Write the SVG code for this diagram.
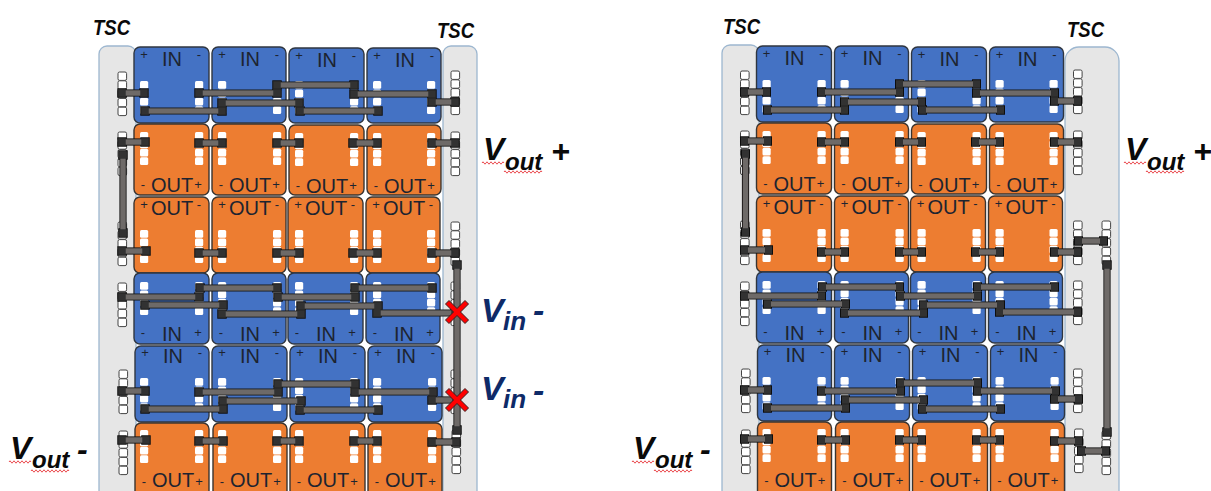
<svg xmlns="http://www.w3.org/2000/svg" width="1211" height="491" viewBox="0 0 1211 491">
<style>
text{font-family:"Liberation Sans",Arial,sans-serif}
.p{fill:#e6e6e6;stroke:#9db7d0;stroke-width:1.3}
.in{fill:#4472c4;stroke:#2f3640;stroke-width:1.4}
.out{fill:#ed7d31;stroke:#3a3430;stroke-width:1.4}
.l{font-size:20px;text-anchor:middle;fill:#1d2430}
.s{font-size:13px;text-anchor:middle;fill:#1d2430}
.k{font-weight:bold;font-style:italic;fill:#0a0a0a}
.n{font-weight:bold;font-style:italic;fill:#0e2a68}
.cs rect{fill:#fff}
.ts rect{fill:#fff;stroke:#444;stroke-width:1}
.c line{stroke:#6e6a68;stroke-width:5.2;marker-start:url(#e);marker-end:url(#e)}
.c{filter:url(#o)}
.x{fill:#f00;stroke:#3a2020;stroke-width:1}
.w{fill:none;stroke:#e8383c;stroke-width:.9}
</style>
<defs>
<marker id="e" markerUnits="userSpaceOnUse" markerWidth="7.5" markerHeight="7.5" refX="3.75" refY="3.75" orient="auto"><rect width="7.5" height="7.5" fill="#333"/></marker>
<filter id="o" filterUnits="userSpaceOnUse" x="-700" y="-20" width="2000" height="540"><feMorphology in="SourceAlpha" operator="dilate" radius=".7" result="d"/><feFlood flood-color="#111"/><feComposite in2="d" operator="in"/><feMerge><feMergeNode/><feMergeNode in="SourceGraphic"/></feMerge></filter>
<g id="cs" class="cs"><rect width="8.2" height="7.8" rx="1.5"/><rect y="8.4" width="8.2" height="7.8" rx="1.5"/><rect y="16.8" width="8.2" height="7.8" rx="1.5"/><rect y="25.2" width="8.2" height="7.8" rx="1.5"/></g>
<g id="ts" class="ts"><rect width="8.6" height="8.4" rx="1.6"/><rect y="8.8" width="8.6" height="8.4" rx="1.6"/><rect y="17.6" width="8.6" height="8.4" rx="1.6"/><rect y="26.4" width="8.6" height="8.4" rx="1.6"/><rect y="35.2" width="8.6" height="8.4" rx="1.6"/></g>
<path id="wl" class="w" d="M0 0q1 -2.4 2 0t2 0t2 0t2 0t2 0t2 0t2 0t2 0t2 0t2 0t2 0t2 0t2 0t2 0t2 0t2 0t2 0t2 0t2 0"/>
<path id="ws" class="w" d="M0 0q1 -2.4 2 0t2 0t2 0t2 0t2 0t2 0t2 0t2 0t2 0t2 0t2 0"/>
</defs>

<g id="a-tsc-left"><rect class="p" x="99" y="46" width="37" height="460" rx="8"/></g>
<g id="a-tsc-right"><rect class="p" x="443" y="46" width="34" height="460" rx="8"/></g>
<g id="b-tsc-left"><rect class="p" x="722" y="45" width="37" height="460" rx="8"/></g>
<g id="b-tsc-right"><rect class="p" x="1065" y="47" width="54" height="460" rx="14"/></g>

<g id="diagram-a">
<g id="a-r1c1" transform="translate(134,47)"><rect class="in" width="75" height="76" rx="6"/><use href="#cs" x="6" y="34"/><use href="#cs" x="61" y="34"/><text class="s" x="10" y="12">+</text><text class="l" x="38" y="19">IN</text><text class="s" x="65" y="12">-</text></g>
<g id="a-r1c2" transform="translate(212,47)"><rect class="in" width="74" height="76" rx="6"/><use href="#cs" x="6" y="34"/><use href="#cs" x="61" y="34"/><text class="s" x="10" y="12">+</text><text class="l" x="38" y="19">IN</text><text class="s" x="65" y="12">-</text></g>
<g id="a-r1c3" transform="translate(289,48)"><rect class="in" width="75" height="75" rx="6"/><use href="#cs" x="6" y="33"/><use href="#cs" x="61" y="33"/><text class="s" x="10" y="12">+</text><text class="l" x="38" y="19">IN</text><text class="s" x="65" y="12">-</text></g>
<g id="a-r1c4" transform="translate(367,48)"><rect class="in" width="74" height="75" rx="6"/><use href="#cs" x="6" y="33"/><use href="#cs" x="60" y="33"/><text class="s" x="10" y="12">+</text><text class="l" x="38" y="19">IN</text><text class="s" x="65" y="12">-</text></g>

<g id="a-r2c1" transform="translate(134,124)"><rect class="out" width="75" height="71" rx="6"/><use href="#cs" x="6" y="8"/><use href="#cs" x="61" y="8"/><text class="s" x="9" y="65">-</text><text class="l" x="38" y="68">OUT</text><text class="s" x="64" y="65">+</text></g>
<g id="a-r2c2" transform="translate(212,124)"><rect class="out" width="74" height="71" rx="6"/><use href="#cs" x="6" y="8"/><use href="#cs" x="61" y="8"/><text class="s" x="9" y="65">-</text><text class="l" x="38" y="68">OUT</text><text class="s" x="64" y="65">+</text></g>
<g id="a-r2c3" transform="translate(289,125)"><rect class="out" width="75" height="70" rx="6"/><use href="#cs" x="6" y="8"/><use href="#cs" x="61" y="8"/><text class="s" x="9" y="65">-</text><text class="l" x="38" y="68">OUT</text><text class="s" x="64" y="65">+</text></g>
<g id="a-r2c4" transform="translate(367,125)"><rect class="out" width="74" height="70" rx="6"/><use href="#cs" x="6" y="8"/><use href="#cs" x="60" y="8"/><text class="s" x="9" y="65">-</text><text class="l" x="38" y="68">OUT</text><text class="s" x="64" y="65">+</text></g>

<g id="a-r3c1" transform="translate(134,197)"><rect class="out" width="75" height="76" rx="6"/><use href="#cs" x="6" y="33"/><use href="#cs" x="61" y="33"/><text class="s" x="10" y="12">+</text><text class="l" x="38" y="18">OUT</text><text class="s" x="65" y="12">-</text></g>
<g id="a-r3c2" transform="translate(212,197)"><rect class="out" width="74" height="76" rx="6"/><use href="#cs" x="6" y="33"/><use href="#cs" x="61" y="33"/><text class="s" x="10" y="12">+</text><text class="l" x="38" y="18">OUT</text><text class="s" x="65" y="12">-</text></g>
<g id="a-r3c3" transform="translate(288,197)"><rect class="out" width="75" height="76" rx="6"/><use href="#cs" x="7" y="33"/><use href="#cs" x="62" y="33"/><text class="s" x="10" y="12">+</text><text class="l" x="38" y="18">OUT</text><text class="s" x="65" y="12">-</text></g>
<g id="a-r3c4" transform="translate(366,197)"><rect class="out" width="74" height="76" rx="6"/><use href="#cs" x="7" y="33"/><use href="#cs" x="61" y="33"/><text class="s" x="10" y="12">+</text><text class="l" x="38" y="18">OUT</text><text class="s" x="65" y="12">-</text></g>

<g id="a-r4c1" transform="translate(134,273)"><rect class="in" width="75" height="71" rx="6"/><use href="#cs" x="6" y="9"/><use href="#cs" x="61" y="9"/><text class="s" x="9" y="64">-</text><text class="l" x="38" y="68">IN</text><text class="s" x="64" y="64">+</text></g>
<g id="a-r4c2" transform="translate(212,273)"><rect class="in" width="74" height="71" rx="6"/><use href="#cs" x="6" y="9"/><use href="#cs" x="61" y="9"/><text class="s" x="9" y="64">-</text><text class="l" x="38" y="68">IN</text><text class="s" x="64" y="64">+</text></g>
<g id="a-r4c3" transform="translate(288,273)"><rect class="in" width="75" height="71" rx="6"/><use href="#cs" x="7" y="9"/><use href="#cs" x="62" y="9"/><text class="s" x="9" y="64">-</text><text class="l" x="38" y="68">IN</text><text class="s" x="64" y="64">+</text></g>
<g id="a-r4c4" transform="translate(366,273)"><rect class="in" width="74" height="71" rx="6"/><use href="#cs" x="7" y="9"/><use href="#cs" x="61" y="9"/><text class="s" x="9" y="64">-</text><text class="l" x="38" y="68">IN</text><text class="s" x="64" y="64">+</text></g>

<g id="a-r5c1" transform="translate(135,346)"><rect class="in" width="74" height="76" rx="6"/><use href="#cs" x="5" y="32"/><use href="#cs" x="60" y="32"/><text class="s" x="10" y="11">+</text><text class="l" x="38" y="17">IN</text><text class="s" x="65" y="11">-</text></g>
<g id="a-r5c2" transform="translate(212,346)"><rect class="in" width="75" height="76" rx="6"/><use href="#cs" x="6" y="32"/><use href="#cs" x="61" y="32"/><text class="s" x="10" y="11">+</text><text class="l" x="38" y="17">IN</text><text class="s" x="65" y="11">-</text></g>
<g id="a-r5c3" transform="translate(290,346)"><rect class="in" width="75" height="76" rx="6"/><use href="#cs" x="5" y="32"/><use href="#cs" x="60" y="32"/><text class="s" x="10" y="11">+</text><text class="l" x="38" y="17">IN</text><text class="s" x="65" y="11">-</text></g>
<g id="a-r5c4" transform="translate(368,346)"><rect class="in" width="74" height="76" rx="6"/><use href="#cs" x="5" y="32"/><use href="#cs" x="60" y="32"/><text class="s" x="10" y="11">+</text><text class="l" x="38" y="17">IN</text><text class="s" x="65" y="11">-</text></g>

<g id="a-r6c1" transform="translate(135,423)"><rect class="out" width="74" height="76" rx="6"/><use href="#cs" x="5" y="7"/><use href="#cs" x="60" y="7"/><text class="s" x="9" y="63">-</text><text class="l" x="38" y="64">OUT</text><text class="s" x="64" y="63">+</text></g>
<g id="a-r6c2" transform="translate(213,423)"><rect class="out" width="74" height="76" rx="6"/><use href="#cs" x="5" y="7"/><use href="#cs" x="60" y="7"/><text class="s" x="9" y="63">-</text><text class="l" x="38" y="64">OUT</text><text class="s" x="64" y="63">+</text></g>
<g id="a-r6c3" transform="translate(290,423)"><rect class="out" width="75" height="76" rx="6"/><use href="#cs" x="5" y="7"/><use href="#cs" x="60" y="7"/><text class="s" x="9" y="63">-</text><text class="l" x="38" y="64">OUT</text><text class="s" x="64" y="63">+</text></g>
<g id="a-r6c4" transform="translate(368,423)"><rect class="out" width="74" height="76" rx="6"/><use href="#cs" x="5" y="7"/><use href="#cs" x="60" y="7"/><text class="s" x="9" y="63">-</text><text class="l" x="38" y="64">OUT</text><text class="s" x="64" y="63">+</text></g>

<g id="a-tsc-slots">
<use href="#ts" x="118" y="72"/><use href="#ts" x="118" y="132"/><use href="#ts" x="118" y="222"/><use href="#ts" x="118" y="283"/><use href="#ts" x="119" y="370"/><use href="#ts" x="119" y="431"/>
<use href="#ts" x="451" y="71"/><use href="#ts" x="451" y="132"/><use href="#ts" x="451" y="222"/><use href="#ts" x="451" y="282"/><use href="#ts" x="451" y="370"/><use href="#ts" x="452" y="430"/>
</g>

<g id="a-connectors" class="c">
<line x1="122" y1="93" x2="144" y2="93"/><line x1="199" y1="93" x2="277" y2="93"/><line x1="277" y1="85" x2="354" y2="85"/><line x1="354" y1="94" x2="432" y2="94"/><line x1="432" y1="102" x2="455" y2="102"/><line x1="145" y1="111" x2="222" y2="111"/><line x1="222" y1="103" x2="299" y2="103"/><line x1="300" y1="111" x2="378" y2="111"/>
<line x1="122" y1="142" x2="145" y2="142"/><line x1="199" y1="143" x2="222" y2="143"/><line x1="277" y1="143" x2="299" y2="143"/><line x1="353" y1="143" x2="377" y2="143"/><line x1="432" y1="143" x2="455" y2="143"/>
<line x1="123" y1="155" x2="123" y2="233"/>
<line x1="122" y1="251" x2="146" y2="251"/><line x1="199" y1="253" x2="222" y2="253"/><line x1="277" y1="253" x2="299" y2="253"/><line x1="353" y1="253" x2="377" y2="253"/><line x1="432" y1="253" x2="455" y2="253"/>
<line x1="200" y1="288" x2="277" y2="288"/><line x1="122" y1="297" x2="199" y2="297"/><line x1="278" y1="297" x2="355" y2="297"/><line x1="355" y1="288" x2="432" y2="288"/><line x1="145" y1="305" x2="223" y2="305"/><line x1="222" y1="314" x2="301" y2="314"/><line x1="301" y1="306" x2="378" y2="306"/><line x1="377" y1="313" x2="455" y2="313"/>
<line x1="457" y1="265" x2="457" y2="430"/>
<line x1="122" y1="391" x2="145" y2="391"/><line x1="199" y1="392" x2="278" y2="392"/><line x1="278" y1="384" x2="355" y2="384"/><line x1="355" y1="392" x2="433" y2="392"/><line x1="432" y1="400" x2="456" y2="400"/><line x1="145" y1="409" x2="223" y2="409"/><line x1="223" y1="401" x2="301" y2="401"/><line x1="300" y1="410" x2="378" y2="410"/>
<line x1="122" y1="440" x2="146" y2="440"/><line x1="199" y1="441" x2="223" y2="441"/><line x1="277" y1="441" x2="299" y2="441"/><line x1="354" y1="441" x2="377" y2="441"/><line x1="432" y1="442" x2="456" y2="442"/>
</g>
<polygon id="a-cross-1" class="x" transform="translate(457,312)" points="-8,-11.5 0,-3.5 8,-11.5 11.5,-8 3.5,0 11.5,8 8,11.5 0,3.5 -8,11.5 -11.5,8 -3.5,0 -11.5,-8"/>
<polygon id="a-cross-2" class="x" transform="translate(457,400)" points="-8,-11.5 0,-3.5 8,-11.5 11.5,-8 3.5,0 11.5,8 8,11.5 0,3.5 -8,11.5 -11.5,8 -3.5,0 -11.5,-8"/>
</g>

<g id="diagram-b" transform="translate(622.5,-1)">
<g id="b-r1c1" transform="translate(134,47)"><rect class="in" width="75" height="76" rx="6"/><use href="#cs" x="6" y="34"/><use href="#cs" x="61" y="34"/><text class="s" x="10" y="12">+</text><text class="l" x="38" y="19">IN</text><text class="s" x="65" y="12">-</text></g>
<g id="b-r1c2" transform="translate(212,47)"><rect class="in" width="74" height="76" rx="6"/><use href="#cs" x="6" y="34"/><use href="#cs" x="61" y="34"/><text class="s" x="10" y="12">+</text><text class="l" x="38" y="19">IN</text><text class="s" x="65" y="12">-</text></g>
<g id="b-r1c3" transform="translate(289,48)"><rect class="in" width="75" height="75" rx="6"/><use href="#cs" x="6" y="33"/><use href="#cs" x="61" y="33"/><text class="s" x="10" y="12">+</text><text class="l" x="38" y="19">IN</text><text class="s" x="65" y="12">-</text></g>
<g id="b-r1c4" transform="translate(367,48)"><rect class="in" width="74" height="75" rx="6"/><use href="#cs" x="6" y="33"/><use href="#cs" x="60" y="33"/><text class="s" x="10" y="12">+</text><text class="l" x="38" y="19">IN</text><text class="s" x="65" y="12">-</text></g>

<g id="b-r2c1" transform="translate(134,124)"><rect class="out" width="75" height="71" rx="6"/><use href="#cs" x="6" y="8"/><use href="#cs" x="61" y="8"/><text class="s" x="9" y="65">-</text><text class="l" x="38" y="68">OUT</text><text class="s" x="64" y="65">+</text></g>
<g id="b-r2c2" transform="translate(212,124)"><rect class="out" width="74" height="71" rx="6"/><use href="#cs" x="6" y="8"/><use href="#cs" x="61" y="8"/><text class="s" x="9" y="65">-</text><text class="l" x="38" y="68">OUT</text><text class="s" x="64" y="65">+</text></g>
<g id="b-r2c3" transform="translate(289,125)"><rect class="out" width="75" height="70" rx="6"/><use href="#cs" x="6" y="8"/><use href="#cs" x="61" y="8"/><text class="s" x="9" y="65">-</text><text class="l" x="38" y="68">OUT</text><text class="s" x="64" y="65">+</text></g>
<g id="b-r2c4" transform="translate(367,125)"><rect class="out" width="74" height="70" rx="6"/><use href="#cs" x="6" y="8"/><use href="#cs" x="60" y="8"/><text class="s" x="9" y="65">-</text><text class="l" x="38" y="68">OUT</text><text class="s" x="64" y="65">+</text></g>

<g id="b-r3c1" transform="translate(134,197)"><rect class="out" width="75" height="76" rx="6"/><use href="#cs" x="6" y="33"/><use href="#cs" x="61" y="33"/><text class="s" x="10" y="12">+</text><text class="l" x="38" y="18">OUT</text><text class="s" x="65" y="12">-</text></g>
<g id="b-r3c2" transform="translate(212,197)"><rect class="out" width="74" height="76" rx="6"/><use href="#cs" x="6" y="33"/><use href="#cs" x="61" y="33"/><text class="s" x="10" y="12">+</text><text class="l" x="38" y="18">OUT</text><text class="s" x="65" y="12">-</text></g>
<g id="b-r3c3" transform="translate(288,197)"><rect class="out" width="75" height="76" rx="6"/><use href="#cs" x="7" y="33"/><use href="#cs" x="62" y="33"/><text class="s" x="10" y="12">+</text><text class="l" x="38" y="18">OUT</text><text class="s" x="65" y="12">-</text></g>
<g id="b-r3c4" transform="translate(366,197)"><rect class="out" width="74" height="76" rx="6"/><use href="#cs" x="7" y="33"/><use href="#cs" x="61" y="33"/><text class="s" x="10" y="12">+</text><text class="l" x="38" y="18">OUT</text><text class="s" x="65" y="12">-</text></g>

<g id="b-r4c1" transform="translate(134,273)"><rect class="in" width="75" height="71" rx="6"/><use href="#cs" x="6" y="9"/><use href="#cs" x="61" y="9"/><text class="s" x="9" y="64">-</text><text class="l" x="38" y="68">IN</text><text class="s" x="64" y="64">+</text></g>
<g id="b-r4c2" transform="translate(212,273)"><rect class="in" width="74" height="71" rx="6"/><use href="#cs" x="6" y="9"/><use href="#cs" x="61" y="9"/><text class="s" x="9" y="64">-</text><text class="l" x="38" y="68">IN</text><text class="s" x="64" y="64">+</text></g>
<g id="b-r4c3" transform="translate(288,273)"><rect class="in" width="75" height="71" rx="6"/><use href="#cs" x="7" y="9"/><use href="#cs" x="62" y="9"/><text class="s" x="9" y="64">-</text><text class="l" x="38" y="68">IN</text><text class="s" x="64" y="64">+</text></g>
<g id="b-r4c4" transform="translate(366,273)"><rect class="in" width="74" height="71" rx="6"/><use href="#cs" x="7" y="9"/><use href="#cs" x="61" y="9"/><text class="s" x="9" y="64">-</text><text class="l" x="38" y="68">IN</text><text class="s" x="64" y="64">+</text></g>

<g id="b-r5c1" transform="translate(135,346)"><rect class="in" width="74" height="76" rx="6"/><use href="#cs" x="5" y="32"/><use href="#cs" x="60" y="32"/><text class="s" x="10" y="11">+</text><text class="l" x="38" y="17">IN</text><text class="s" x="65" y="11">-</text></g>
<g id="b-r5c2" transform="translate(212,346)"><rect class="in" width="75" height="76" rx="6"/><use href="#cs" x="6" y="32"/><use href="#cs" x="61" y="32"/><text class="s" x="10" y="11">+</text><text class="l" x="38" y="17">IN</text><text class="s" x="65" y="11">-</text></g>
<g id="b-r5c3" transform="translate(290,346)"><rect class="in" width="75" height="76" rx="6"/><use href="#cs" x="5" y="32"/><use href="#cs" x="60" y="32"/><text class="s" x="10" y="11">+</text><text class="l" x="38" y="17">IN</text><text class="s" x="65" y="11">-</text></g>
<g id="b-r5c4" transform="translate(368,346)"><rect class="in" width="74" height="76" rx="6"/><use href="#cs" x="5" y="32"/><use href="#cs" x="60" y="32"/><text class="s" x="10" y="11">+</text><text class="l" x="38" y="17">IN</text><text class="s" x="65" y="11">-</text></g>

<g id="b-r6c1" transform="translate(135,423)"><rect class="out" width="74" height="76" rx="6"/><use href="#cs" x="5" y="7"/><use href="#cs" x="60" y="7"/><text class="s" x="9" y="63">-</text><text class="l" x="38" y="65">OUT</text><text class="s" x="64" y="63">+</text></g>
<g id="b-r6c2" transform="translate(213,423)"><rect class="out" width="74" height="76" rx="6"/><use href="#cs" x="5" y="7"/><use href="#cs" x="60" y="7"/><text class="s" x="9" y="63">-</text><text class="l" x="38" y="65">OUT</text><text class="s" x="64" y="63">+</text></g>
<g id="b-r6c3" transform="translate(290,423)"><rect class="out" width="75" height="76" rx="6"/><use href="#cs" x="5" y="7"/><use href="#cs" x="60" y="7"/><text class="s" x="9" y="63">-</text><text class="l" x="38" y="65">OUT</text><text class="s" x="64" y="63">+</text></g>
<g id="b-r6c4" transform="translate(368,423)"><rect class="out" width="74" height="76" rx="6"/><use href="#cs" x="5" y="7"/><use href="#cs" x="60" y="7"/><text class="s" x="9" y="63">-</text><text class="l" x="38" y="65">OUT</text><text class="s" x="64" y="63">+</text></g>

<g id="b-tsc-slots">
<use href="#ts" x="118" y="72"/><use href="#ts" x="118" y="132"/><use href="#ts" x="118" y="222"/><use href="#ts" x="118" y="283"/><use href="#ts" x="119" y="370"/><use href="#ts" x="119" y="431"/>
<use href="#ts" x="451" y="71"/><use href="#ts" x="451" y="132"/><use href="#ts" x="451" y="222"/><use href="#ts" x="451" y="282"/><use href="#ts" x="451" y="370"/><use href="#ts" x="452" y="430"/>
<use href="#ts" x="479.5" y="222"/><use href="#ts" x="479.5" y="432"/>
</g>

<g id="b-connectors" class="c">
<line x1="122" y1="93" x2="144" y2="93"/><line x1="199" y1="93" x2="277" y2="93"/><line x1="277" y1="85" x2="354" y2="85"/><line x1="354" y1="94" x2="432" y2="94"/><line x1="432" y1="102" x2="455" y2="102"/><line x1="145" y1="111" x2="222" y2="111"/><line x1="222" y1="103" x2="299" y2="103"/><line x1="300" y1="111" x2="378" y2="111"/>
<line x1="122" y1="142" x2="145" y2="142"/><line x1="199" y1="143" x2="222" y2="143"/><line x1="277" y1="143" x2="299" y2="143"/><line x1="353" y1="143" x2="377" y2="143"/><line x1="432" y1="143" x2="455" y2="143"/>
<line x1="123" y1="155" x2="123" y2="233"/>
<line x1="122" y1="251" x2="146" y2="251"/><line x1="199" y1="253" x2="222" y2="253"/><line x1="277" y1="253" x2="299" y2="253"/><line x1="353" y1="253" x2="377" y2="253"/><line x1="432" y1="253" x2="455" y2="253"/>
<line x1="456" y1="242" x2="481" y2="242"/>
<line x1="200" y1="288" x2="277" y2="288"/><line x1="122" y1="297" x2="199" y2="297"/><line x1="278" y1="297" x2="355" y2="297"/><line x1="355" y1="288" x2="432" y2="288"/><line x1="145" y1="305" x2="223" y2="305"/><line x1="222" y1="314" x2="301" y2="314"/><line x1="301" y1="306" x2="378" y2="306"/><line x1="377" y1="313" x2="455" y2="313"/>
<line x1="484.5" y1="266" x2="484.5" y2="433"/>
<line x1="122" y1="391" x2="145" y2="391"/><line x1="199" y1="392" x2="278" y2="392"/><line x1="278" y1="384" x2="355" y2="384"/><line x1="355" y1="392" x2="433" y2="392"/><line x1="432" y1="400" x2="456" y2="400"/><line x1="145" y1="409" x2="223" y2="409"/><line x1="223" y1="401" x2="301" y2="401"/><line x1="300" y1="410" x2="378" y2="410"/>
<line x1="122" y1="440" x2="146" y2="440"/><line x1="199" y1="441" x2="223" y2="441"/><line x1="277" y1="441" x2="299" y2="441"/><line x1="354" y1="441" x2="377" y2="441"/><line x1="432" y1="442" x2="456" y2="442"/>
<line x1="459" y1="452" x2="483" y2="452"/>
</g>
</g>

<g id="labels">
<text class="k" font-size="22" x="93" y="35" textLength="37" lengthAdjust="spacingAndGlyphs">TSC</text>
<text class="k" font-size="22" x="437" y="38" textLength="37" lengthAdjust="spacingAndGlyphs">TSC</text>
<text class="k" font-size="22" x="723" y="34" textLength="37" lengthAdjust="spacingAndGlyphs">TSC</text>
<text class="k" font-size="22" x="1067" y="37" textLength="37" lengthAdjust="spacingAndGlyphs">TSC</text>

<text class="k" font-size="32" x="483" y="160">V</text><text class="k" font-size="24" x="505" y="170">out</text><text class="k" font-size="32" x="551" y="162">+</text>
<text class="k" font-size="32" x="1125" y="160">V</text><text class="k" font-size="24" x="1147" y="170">out</text><text class="k" font-size="32" x="1193" y="162">+</text>

<text class="k" font-size="32" x="10" y="459">V</text><text class="k" font-size="24" x="32" y="468">out</text><text class="k" font-size="32" x="77" y="460">-</text>
<text class="k" font-size="32" x="633" y="459">V</text><text class="k" font-size="24" x="655" y="468">out</text><text class="k" font-size="32" x="700" y="460">-</text>

<text class="n" font-size="34" x="481" y="322">V</text><text class="n" font-size="26" x="503" y="330">in</text><text class="n" font-size="34" x="533" y="322">-</text>
<text class="n" font-size="34" x="481" y="400">V</text><text class="n" font-size="26" x="503" y="408">in</text><text class="n" font-size="34" x="533" y="402">-</text>
</g>
<g id="squiggles">
<use href="#wl" x="504" y="172"/><use href="#wl" x="1146" y="172"/><use href="#wl" x="31" y="471"/><use href="#wl" x="654" y="471"/>
<use href="#ws" x="482" y="163"/><use href="#ws" x="1124" y="163"/><use href="#ws" x="9" y="462"/><use href="#ws" x="632" y="462"/>
</g>
</svg>
